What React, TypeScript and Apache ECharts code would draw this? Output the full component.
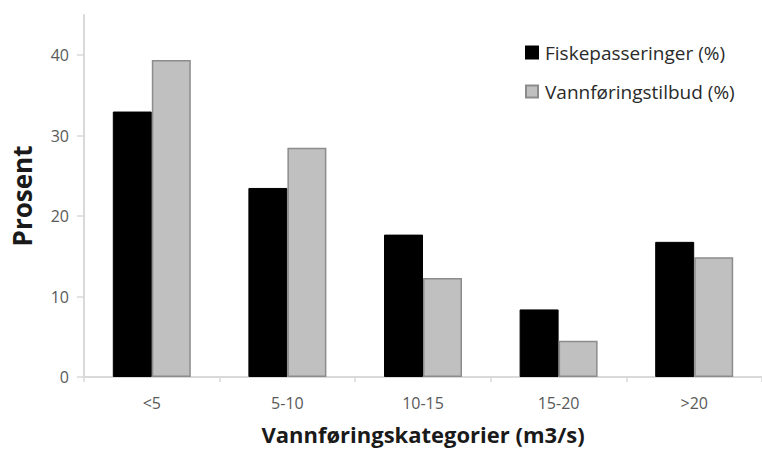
import React, { useEffect, useRef } from "react";
import * as echarts from "echarts";

const categories = ["<5", "5-10", "10-15", "15-20", ">20"];
const fiskepasseringer = [33.0, 23.5, 17.7, 8.4, 16.8];
const vannforingstilbud = [39.4, 28.5, 12.3, 4.5, 14.9];
const yTicks = [0, 10, 20, 30, 40];

const FONT = "'Open Sans', Lato, sans-serif";

export default function App() {
  const ref = useRef<HTMLDivElement>(null);
  useEffect(() => {
    if (!ref.current) return;
    const chart = echarts.init(ref.current, null, { renderer: "svg" });
    chart.setOption({
      animation: false,
      backgroundColor: "#ffffff",
      textStyle: { fontFamily: FONT },
      grid: { left: 84, top: 15, width: 685, bottom: 73, containLabel: false },
      legend: {
        orient: "vertical",
        left: 525,
        top: 43,
        padding: 0,
        itemWidth: 12,
        itemHeight: 12,
        itemGap: 20,
        icon: "rect",
        textStyle: {
          fontFamily: FONT,
          fontSize: 19,
          lineHeight: 19,
          color: "#2a2a2a",
          padding: [0, 0, 0, 2],
        },
        data: ["Fiskepasseringer (%)", "Vannføringstilbud (%)"],
      },
      xAxis: {
        type: "category",
        data: categories,
        axisLine: { lineStyle: { color: "#d9d9d9", width: 2 } },
        axisTick: { show: true, length: 5, lineStyle: { color: "#d9d9d9", width: 1.5 } },
        axisLabel: { color: "#595959", fontSize: 16, margin: 18, fontFamily: FONT },
        name: "Vannføringskategorier (m3/s)",
        nameLocation: "middle",
        nameGap: 46,
        nameTextStyle: { fontFamily: FONT, fontSize: 22, fontWeight: "bold", color: "#1a1a1a" },
      },
      yAxis: {
        type: "value",
        min: 0,
        max: 45,
        axisLine: { show: true, lineStyle: { color: "#d9d9d9", width: 2 } },
        axisTick: { show: true, length: 7, customValues: yTicks, lineStyle: { color: "#d9d9d9", width: 1.5 } },
        axisLabel: { customValues: yTicks, color: "#595959", fontSize: 16, margin: 15, fontFamily: FONT },
        splitLine: { show: false },
        name: "Prosent",
        nameLocation: "middle",
        nameGap: 49,
        nameRotate: 90,
        nameTextStyle: { fontFamily: FONT, fontSize: 26, fontWeight: "bold", color: "#1a1a1a" },
      },
      series: [
        {
          name: "Fiskepasseringer (%)",
          type: "bar",
          data: fiskepasseringer,
          barWidth: 39,
          barGap: "0%",
          itemStyle: { color: "#000000", borderColor: "#000000", borderWidth: 1 },
        },
        {
          name: "Vannføringstilbud (%)",
          type: "bar",
          data: vannforingstilbud,
          barWidth: 39,
          barGap: "0%",
          itemStyle: { color: "#c0c0c0", borderColor: "#8c8c8c", borderWidth: 1.5 },
        },
      ],
    });
    return () => chart.dispose();
  }, []);
  return (
    <div
      ref={ref}
      style={{ position: "absolute", left: 0, top: 0, width: 762, height: 450 }}
    />
  );
}
